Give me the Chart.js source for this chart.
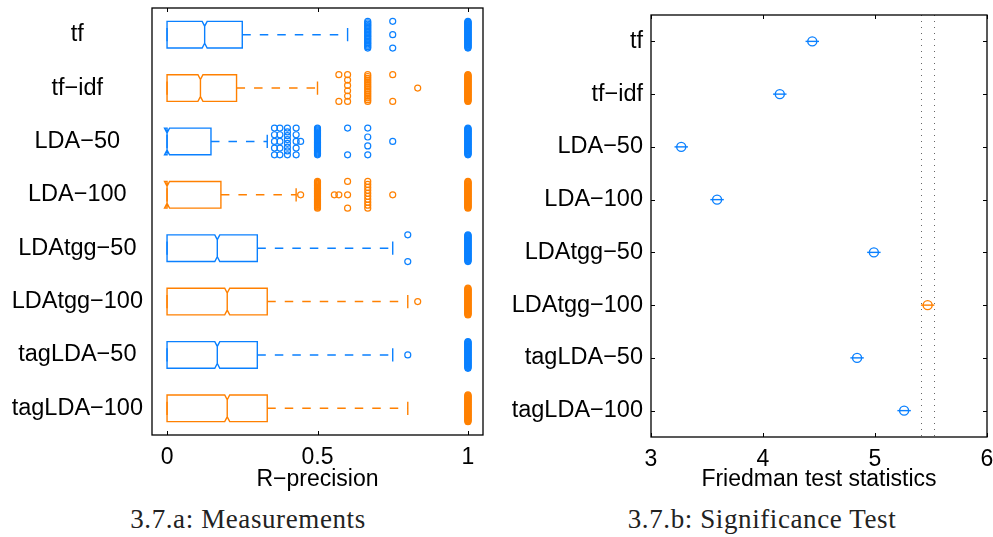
<!DOCTYPE html>
<html>
<head>
<meta charset="utf-8">
<script src="https://cdn.jsdelivr.net/npm/chart.js@4.4.0/dist/chart.umd.min.js"></script>
<style>
  html, body { margin: 0; padding: 0; background: #fff; }
  body { width: 993px; height: 537px; position: relative; overflow: hidden; }
  .panel { position: absolute; top: 0; height: 500px; }
  #boxWrap { left: 0; width: 500px; }
  #friedWrap { left: 500px; width: 493px; }
  .caption {
    position: absolute; top: 504px;
    font-family: "Liberation Serif", "DejaVu Serif", serif;
    font-size: 27px; letter-spacing: 0.6px; color: #222; white-space: nowrap;
    transform: translateX(-50%);
  }
</style>
</head>
<body>
<div class="panel" id="boxWrap"><canvas id="boxChart"></canvas></div>
<div class="panel" id="friedWrap"><canvas id="friedChart"></canvas></div>
<div class="caption" style="left:248px">3.7.a: Measurements</div>
<div class="caption" style="left:762px">3.7.b: Significance Test</div>

<script>
// --- données ---
const categories = ["tf", "tf−idf", "LDA−50", "LDA−100", "LDAtgg−50", "LDAtgg−100", "tagLDA−50", "tagLDA−100"];

// boxplot R-precision
const boxQ1      = [0, 0, 0, 0, 0, 0, 0, 0];
const boxMedian  = [0.125, 0.111, 0, 0, 0.167, 0.2, 0.167, 0.2];
const boxQ3      = [0.25, 0.231, 0.146, 0.179, 0.3, 0.333, 0.3, 0.333];
const whiskerLow  = [0, 0, 0, 0, 0, 0, 0, 0];
const whiskerHigh = [0.6, 0.5, 0.333, 0.429, 0.75, 0.8, 0.75, 0.8];

// outliers : valeurs + nombre de points à cette valeur
const outlierValues = [
    [0.667, 0.75, 1],
    [0.571, 0.6, 0.667, 0.75, 0.833, 1],
    [0.357, 0.375, 0.4, 0.429, 0.444, 0.5, 0.6, 0.667, 0.75, 1],
    [0.444, 0.5, 0.556, 0.571, 0.6, 0.667, 0.75, 1],
    [0.8, 1],
    [0.833, 1],
    [0.8, 1],
    [1]
];
const outlierCounts = [
    [20, 3, 40],
    [2, 6, 16, 2, 1, 40],
    [5, 5, 8, 5, 1, 30, 2, 4, 1, 40],
    [1, 30, 1, 1, 3, 10, 1, 40],
    [2, 40],
    [1, 40],
    [1, 40],
    [40]
];
const xTicksBox = [0, 0.5, 1];

// Friedman test
const friedmanMean = [4.44, 4.15, 3.27, 3.59, 4.99, 5.47, 4.84, 5.26];
const friedmanLow  = [4.38, 4.09, 3.21, 3.53, 4.93, 5.41, 4.78, 5.20];
const friedmanHigh = [4.50, 4.21, 3.33, 3.65, 5.05, 5.53, 4.90, 5.32];
const selectedGroup = 5;
const xTicksFried = [3, 4, 5, 6];

// --- style ---
const BLUE = "#0a80ff";
const ORANGE = "#ff8000";
const FONT = "'Liberation Sans', Arial, sans-serif";
const rowColor = i => (i % 2 === 0 ? BLUE : ORANGE);

// cadre + ticks vers l'intérieur (style matlab)
const frameTicks = {
    id: "frameTicks",
    afterDraw(chart, args, opts) {
        const { ctx, chartArea: a, scales: { x, y } } = chart;
        const L = 4;
        ctx.save();
        ctx.strokeStyle = "#000";
        ctx.lineWidth = 1;
        ctx.beginPath();
        x.ticks.forEach(t => {
            const px = Math.round(x.getPixelForValue(t.value)) + 0.5;
            ctx.moveTo(px, a.top); ctx.lineTo(px, a.top + L);
            ctx.moveTo(px, a.bottom); ctx.lineTo(px, a.bottom - L);
        });
        if (opts.yTicks) {
            y.ticks.forEach(t => {
                const py = Math.round(y.getPixelForValue(t.value)) + 0.5;
                ctx.moveTo(a.left, py); ctx.lineTo(a.left + L, py);
                ctx.moveTo(a.right, py); ctx.lineTo(a.right - L, py);
            });
        }
        ctx.stroke();
        ctx.lineWidth = 1.3;
        ctx.strokeRect(a.left, a.top, a.right - a.left, a.bottom - a.top);
        ctx.restore();
    }
};

// boites à encoches + moustaches
const notchedBoxes = {
    id: "notchedBoxes",
    beforeDatasetsDraw(chart) {
        const { ctx, scales: { x, y } } = chart;
        ctx.save();
        ctx.lineWidth = 1.4;
        categories.forEach((c, i) => {
            const yc = y.getPixelForValue(i + 1);
            const top = y.getPixelForValue(i + 1 - 0.25);
            const bot = y.getPixelForValue(i + 1 + 0.25);
            const cap = (bot - top) * 0.25;
            const nd = (bot - top) * 0.18;
            const nw = 2.5;
            const q1 = x.getPixelForValue(boxQ1[i]);
            const q3 = x.getPixelForValue(boxQ3[i]);
            const md = x.getPixelForValue(boxMedian[i]);
            const wl = x.getPixelForValue(whiskerLow[i]);
            const wh = x.getPixelForValue(whiskerHigh[i]);
            ctx.strokeStyle = rowColor(i);

            // boite
            ctx.setLineDash([]);
            ctx.beginPath();
            ctx.moveTo(q1, top);
            ctx.lineTo(md - nw, top);
            ctx.lineTo(md, top + nd);
            ctx.lineTo(md + nw, top);
            ctx.lineTo(q3, top);
            ctx.lineTo(q3, bot);
            ctx.lineTo(md + nw, bot);
            ctx.lineTo(md, bot - nd);
            ctx.lineTo(md - nw, bot);
            ctx.lineTo(q1, bot);
            ctx.closePath();
            ctx.moveTo(md, top + nd);
            ctx.lineTo(md, bot - nd);
            ctx.stroke();

            // caps
            ctx.beginPath();
            ctx.moveTo(wh, yc - cap); ctx.lineTo(wh, yc + cap);
            ctx.moveTo(wl, yc - cap); ctx.lineTo(wl, yc + cap);
            ctx.stroke();

            // moustaches pointillées
            ctx.setLineDash([8.5, 9]);
            ctx.beginPath();
            ctx.moveTo(q3, yc); ctx.lineTo(wh, yc);
            if (wl < q1) { ctx.moveTo(q1, yc); ctx.lineTo(wl, yc); }
            ctx.stroke();
        });
        ctx.restore();
    }
};

// barres d'intervalle + lignes pointillées
const intervals = {
    id: "intervals",
    beforeDatasetsDraw(chart) {
        const { ctx, chartArea: a, scales: { x, y } } = chart;
        ctx.save();
        ctx.strokeStyle = "#666";
        ctx.lineWidth = 1;
        ctx.setLineDash([1, 5]);
        ctx.beginPath();
        [friedmanLow[selectedGroup], friedmanHigh[selectedGroup]].forEach(v => {
            const px = Math.round(x.getPixelForValue(v)) + 0.5;
            ctx.moveTo(px, a.top); ctx.lineTo(px, a.bottom);
        });
        ctx.stroke();
        ctx.setLineDash([]);
        ctx.lineWidth = 1.4;
        categories.forEach((c, i) => {
            const py = y.getPixelForValue(i + 1);
            ctx.strokeStyle = i === selectedGroup ? ORANGE : BLUE;
            ctx.beginPath();
            ctx.moveTo(x.getPixelForValue(friedmanLow[i]), py);
            ctx.lineTo(x.getPixelForValue(friedmanHigh[i]), py);
            ctx.stroke();
        });
        ctx.restore();
    }
};

function rowScale(width, align, padding) {
    return {
        type: "linear", min: 0.5, max: 8.5, reverse: true,
        afterBuildTicks: s => { s.ticks = categories.map((c, i) => ({ value: i + 1 })); },
        afterFit: s => { s.width = width; s.paddingTop = 0; s.paddingBottom = 0; },
        grid: { display: false, drawTicks: false },
        border: { display: false },
        ticks: {
            autoSkip: false, crossAlign: align, padding: padding,
            color: "#000", font: { family: FONT, size: 23.5 },
            callback: v => categories[v - 1]
        }
    };
}

function valueScale(min, max, ticks, height, title) {
    return {
        type: "linear", min: min, max: max,
        afterBuildTicks: s => { s.ticks = ticks.map(v => ({ value: v })); },
        afterFit: s => { s.height = height; s.paddingLeft = 0; s.paddingRight = 0; },
        grid: { display: false, drawTicks: false },
        border: { display: false },
        ticks: {
            autoSkip: false, padding: 9, maxRotation: 0,
            color: "#000", font: { family: FONT, size: 23 },
            callback: v => String(v)
        },
        title: {
            display: true, text: title, color: "#000",
            font: { family: FONT, size: 23 },
            padding: { top: 0, bottom: 7 }
        }
    };
}

// --- graphique gauche : boxplot ---
const boxDatasets = categories.map((c, i) => {
    const pts = [];
    outlierValues[i].forEach((v, g) => {
        const n = outlierCounts[i][g];
        for (let k = 0; k < n; k++) {
            const off = n === 1 ? 0 : -0.25 + 0.5 * k / (n - 1);
            pts.push({ x: v, y: i + 1 + off });
        }
    });
    return {
        label: c,
        data: pts,
        pointRadius: 3,
        pointBorderWidth: 1.2,
        pointBorderColor: rowColor(i),
        pointBackgroundColor: "rgba(0,0,0,0)",
        showLine: false
    };
});

new Chart(document.getElementById("boxChart"), {
    type: "scatter",
    plugins: [notchedBoxes, frameTicks],
    data: { datasets: boxDatasets },
    options: {
        responsive: true,
        maintainAspectRatio: false,
        animation: false,
        events: [],
        layout: { padding: { left: 0, top: 8, right: 17, bottom: 0 } },
        plugins: {
            legend: { display: false },
            tooltip: { enabled: false },
            frameTicks: { yTicks: false }
        },
        scales: {
            x: valueScale(-0.05, 1.05, xTicksBox, 65, "R−precision"),
            y: rowScale(152, "center", 9)
        }
    }
});

// --- graphique droit : Friedman ---
new Chart(document.getElementById("friedChart"), {
    type: "scatter",
    plugins: [intervals, frameTicks],
    data: {
        datasets: [{
            label: "Friedman",
            data: friedmanMean.map((v, i) => ({ x: v, y: i + 1 })),
            pointRadius: 4.5,
            pointBorderWidth: 1.4,
            pointBorderColor: friedmanMean.map((v, i) => i === selectedGroup ? ORANGE : BLUE),
            pointBackgroundColor: "rgba(0,0,0,0)",
            showLine: false
        }]
    },
    options: {
        responsive: true,
        maintainAspectRatio: false,
        animation: false,
        events: [],
        layout: { padding: { left: 0, top: 15, right: 6, bottom: 0 } },
        plugins: {
            legend: { display: false },
            tooltip: { enabled: false },
            frameTicks: { yTicks: true }
        },
        scales: {
            x: valueScale(3, 6, xTicksFried, 63, "Friedman test statistics"),
            y: rowScale(151, "near", 8)
        }
    }
});
</script>
</body>
</html>
